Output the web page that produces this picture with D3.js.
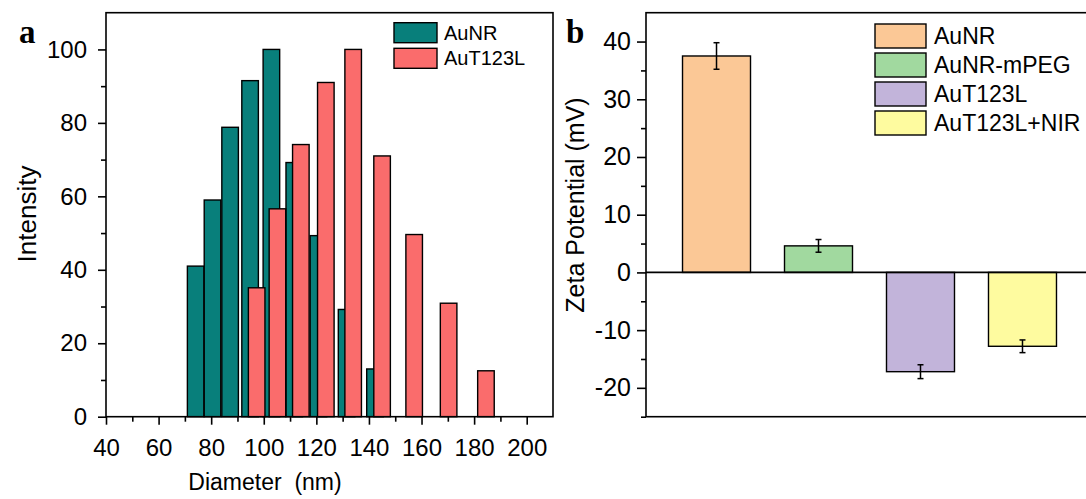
<!DOCTYPE html>
<html>
<head>
<meta charset="utf-8">
<script src="https://cdn.jsdelivr.net/npm/d3@7"></script>
<style>
  body { margin: 0; background: #fff; }
  svg { display: block; font-family: "Liberation Sans", Arial, sans-serif; }
</style>
</head>
<body>
<svg id="chart" width="1086" height="499"></svg>
<script>
// panel a: DLS size distribution (bin centre in nm, intensity)
var aunrDiameter = [74.1, 80.5, 87.2, 94.8, 102.9, 111.6, 120.8, 131.5, 142.3];
var aunrIntensity = [41, 59, 78.8, 91.5, 100, 69.2, 49.3, 29.2, 13];
var aut123lDiameter = [97.3, 105.2, 114.1, 123.6, 134.0, 145.0, 157.2, 170.3, 184.5];
var aut123lIntensity = [35.1, 56.6, 74.1, 91, 100, 71, 49.6, 30.9, 12.5];
var diameterTicks = [40, 60, 80, 100, 120, 140, 160, 180, 200];
var intensityTicks = [0, 20, 40, 60, 80, 100];

// panel b: zeta potential
var zetaSamples = ["AuNR", "AuNR-mPEG", "AuT123L", "AuT123L+NIR"];
var zetaValues = [37.5, 4.6, -17.2, -12.8];
var zetaErrors = [2.3, 1.1, 1.2, 1.1];
var zetaTicks = [-20, -10, 0, 10, 20, 30, 40];

var distColours = {"AuNR": "#087f7b", "AuT123L": "#fa6c6c"};
var zetaColours = ["#fbc896", "#a1d99f", "#c2b4da", "#fefb9f"];

var svg = d3.select("#chart");

// style an axis group like Origin: black lines, big labels
function styleAxis(g, size) {
    g.select(".domain").remove();
    g.selectAll("line").attr("stroke", "#000").attr("stroke-width", 1.6);
    g.selectAll("text")
        .attr("fill", "#000")
        .style("font-family", "'Liberation Sans', Arial, sans-serif")
        .style("font-size", size + "px");
}

// ---------- panel a ----------
var ax = d3.scaleLinear().domain([40, 210]).range([106, 553]);
var ay = d3.scaleLinear().domain([0, 110]).range([416.7, 12.7]);
var barW = 6.3; // bar width in nm

var gA = svg.append("g");

// bars, teal first so the red ones sit on top
function drawBars(xs, ys, colour) {
    gA.append("g").selectAll("rect")
        .data(xs.map(function(d, i) { return {x: d, y: ys[i]}; }))
        .enter().append("rect")
        .attr("x", function(d) { return ax(d.x - barW / 2); })
        .attr("width", function(d) { return ax(d.x + barW / 2) - ax(d.x - barW / 2); })
        .attr("y", function(d) { return ay(d.y); })
        .attr("height", function(d) { return ay(0) - ay(d.y); })
        .attr("fill", colour)
        .attr("stroke", "#000")
        .attr("stroke-width", 1.4);
}
drawBars(aunrDiameter, aunrIntensity, distColours["AuNR"]);
drawBars(aut123lDiameter, aut123lIntensity, distColours["AuT123L"]);

// frame
gA.append("rect")
    .attr("x", ax(40)).attr("y", ay(110))
    .attr("width", ax(210) - ax(40)).attr("height", ay(0) - ay(110))
    .attr("fill", "none").attr("stroke", "#000").attr("stroke-width", 1.6);

// minor ticks
gA.append("g")
    .attr("transform", "translate(0," + ay(0) + ")")
    .call(d3.axisBottom(ax).tickValues(d3.range(50, 210, 20)).tickSize(5).tickFormat(""))
    .call(styleAxis, 24);
gA.append("g")
    .attr("transform", "translate(" + ax(40) + ",0)")
    .call(d3.axisLeft(ay).tickValues(d3.range(10, 110, 20)).tickSize(5).tickFormat(""))
    .call(styleAxis, 24);

gA.append("g")
    .attr("transform", "translate(0," + ay(0) + ")")
    .call(d3.axisBottom(ax).tickValues(diameterTicks).tickSize(8).tickPadding(14))
    .call(styleAxis, 24);

gA.append("g")
    .attr("transform", "translate(" + ax(40) + ",0)")
    .call(d3.axisLeft(ay).tickValues(intensityTicks).tickSize(8).tickPadding(11))
    .call(styleAxis, 24);

gA.append("text")
    .attr("x", 265).attr("y", 490)
    .attr("text-anchor", "middle")
    .style("font-size", "23px")
    .style("white-space", "pre")
    .text("Diameter  (nm)");

gA.append("text")
    .attr("transform", "translate(36,214) rotate(-90)")
    .attr("text-anchor", "middle")
    .style("font-size", "26px")
    .text("Intensity");

gA.append("text")
    .attr("x", 19).attr("y", 43)
    .style("font-family", "'Liberation Serif', 'Times New Roman', serif")
    .style("font-weight", "bold")
    .style("font-size", "33px")
    .text("a");

// legend a
var legA = gA.append("g").selectAll("g")
    .data(["AuNR", "AuT123L"])
    .enter().append("g")
    .attr("transform", function(d, i) { return "translate(394," + (22.7 + i * 25.6) + ")"; });
legA.append("rect")
    .attr("width", 43).attr("height", 20)
    .attr("fill", function(d) { return distColours[d]; })
    .attr("stroke", "#000").attr("stroke-width", 1.4);
legA.append("text")
    .attr("x", 50).attr("y", 17)
    .style("font-size", "20px")
    .text(function(d) { return d; });

// ---------- panel b ----------
var bx = d3.scaleBand().domain(zetaSamples).range([646, 1093]).paddingInner(1 / 3).paddingOuter(0.358);
var by = d3.scaleLinear().domain([-25, 45]).range([416.7, 12.7]);

var gB = svg.append("g");

gB.append("g").selectAll("rect")
    .data(zetaSamples)
    .enter().append("rect")
    .attr("x", function(d) { return bx(d); })
    .attr("width", bx.bandwidth())
    .attr("y", function(d, i) { return by(Math.max(0, zetaValues[i])); })
    .attr("height", function(d, i) { return Math.abs(by(zetaValues[i]) - by(0)); })
    .attr("fill", function(d, i) { return zetaColours[i]; })
    .attr("stroke", "#000")
    .attr("stroke-width", 1.4);

// error bars
var err = gB.append("g").selectAll("g")
    .data(zetaSamples)
    .enter().append("g")
    .attr("transform", function(d) { return "translate(" + (bx(d) + bx.bandwidth() / 2) + ",0)"; });
err.append("line")
    .attr("y1", function(d, i) { return by(zetaValues[i] + zetaErrors[i]); })
    .attr("y2", function(d, i) { return by(zetaValues[i] - zetaErrors[i]); })
    .attr("stroke", "#000").attr("stroke-width", 1.5);
err.selectAll(".cap")
    .data(function(d, i) { return [zetaValues[i] + zetaErrors[i], zetaValues[i] - zetaErrors[i]]; })
    .enter().append("line")
    .attr("x1", -3).attr("x2", 3)
    .attr("y1", function(v) { return by(v); })
    .attr("y2", function(v) { return by(v); })
    .attr("stroke", "#000").attr("stroke-width", 1.5);

// frame and zero line
gB.append("rect")
    .attr("x", 646).attr("y", by(45))
    .attr("width", 1093 - 646).attr("height", by(-25) - by(45))
    .attr("fill", "none").attr("stroke", "#000").attr("stroke-width", 1.6);
gB.append("line")
    .attr("x1", 646).attr("x2", 1093)
    .attr("y1", by(0)).attr("y2", by(0))
    .attr("stroke", "#000").attr("stroke-width", 1.6);

gB.append("g")
    .attr("transform", "translate(646,0)")
    .call(d3.axisLeft(by).tickValues(d3.range(-25, 45, 10)).tickSize(5).tickFormat(""))
    .call(styleAxis, 25);
gB.append("g")
    .attr("transform", "translate(646,0)")
    .call(d3.axisLeft(by).tickValues(zetaTicks).tickSize(9).tickPadding(6).tickFormat(function(d) { return String(d); }))
    .call(styleAxis, 25);

gB.append("text")
    .attr("transform", "translate(584,205) rotate(-90)")
    .attr("text-anchor", "middle")
    .style("font-size", "25px")
    .text("Zeta Potential (mV)");

gB.append("text")
    .attr("x", 566).attr("y", 43)
    .style("font-family", "'Liberation Serif', 'Times New Roman', serif")
    .style("font-weight", "bold")
    .style("font-size", "33px")
    .text("b");

// legend b
var legB = gB.append("g").selectAll("g")
    .data(zetaSamples)
    .enter().append("g")
    .attr("transform", function(d, i) { return "translate(875," + (24 + i * 29) + ")"; });
legB.append("rect")
    .attr("width", 51).attr("height", 24)
    .attr("fill", function(d, i) { return zetaColours[i]; })
    .attr("stroke", "#000").attr("stroke-width", 1.4);
legB.append("text")
    .attr("x", 59).attr("y", 20)
    .style("font-size", "23px")
    .text(function(d) { return d; });
</script>
</body>
</html>
